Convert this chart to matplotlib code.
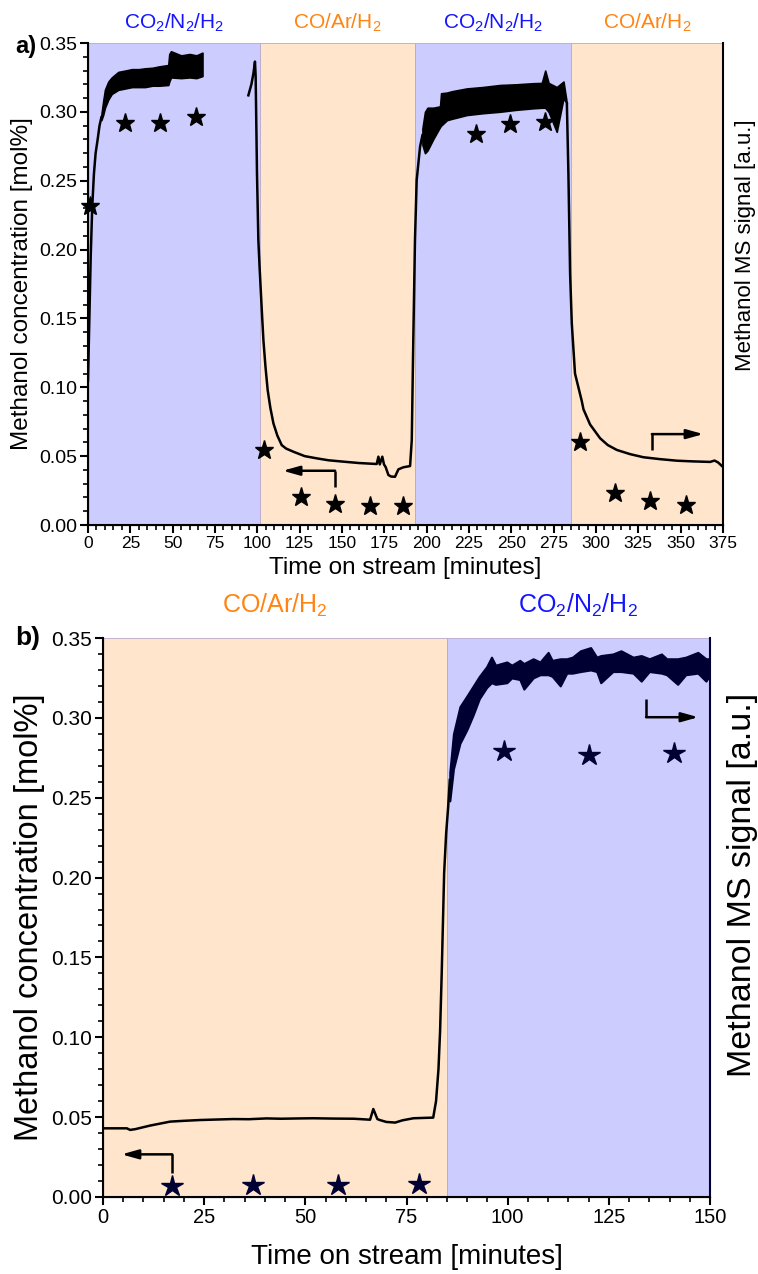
import matplotlib
matplotlib.use("Agg")
import matplotlib.pyplot as plt
from matplotlib.ticker import MultipleLocator

plt.rcParams['font.family'] = ['Liberation Sans', 'DejaVu Sans']
plt.rcParams['mathtext.fontset'] = 'custom'
plt.rcParams['mathtext.rm'] = 'Liberation Sans'
plt.rcParams['mathtext.it'] = 'Liberation Sans'

BLUE_BG = "#ccccff"
ORANGE_BG = "#ffe5cc"
BLUE_TXT = "#1414ff"
ORANGE_TXT = "#ff8412"
NAVY = "#000033"

CO2_LABEL = "CO$_2$/N$_2$/H$_2$"
CO_LABEL = "CO/Ar/H$_2$"

# ---- panel a) data ----
a_regions = [(0, 101.6, "co2"), (101.6, 193, "co"), (193, 285, "co2"), (285, 375, "co")]

a_rise_t = [0, 0.8, 1.6, 2.5, 3.5, 4.5, 5.7, 6.8, 7.9]
a_rise_y = [0.105, 0.150, 0.195, 0.231, 0.255, 0.270, 0.280, 0.290, 0.296]

a_band_t = [7.9, 9, 10, 12, 14, 17.9, 22, 26, 30, 33.7, 38, 42, 47.4, 48, 49, 55, 60, 64, 67.6]
a_band_hi = [0.298, 0.308, 0.316, 0.322, 0.325, 0.329, 0.330, 0.331, 0.331, 0.3316, 0.332,
             0.333, 0.334, 0.342, 0.344, 0.341, 0.342, 0.341, 0.343]
a_band_lo = [0.294, 0.298, 0.303, 0.309, 0.313, 0.316, 0.317, 0.318, 0.318, 0.318, 0.319,
             0.319, 0.3195, 0.322, 0.325, 0.3245, 0.325, 0.3245, 0.326]

b_t = [94.7, 96.5, 97.7, 98.6, 99.0, 99.8, 100.6, 101.3, 102, 102.8, 103.6, 104.8, 106.1,
       107.7, 109.5, 111.8, 114.4, 117, 121.3, 128, 135.1, 142, 150.8, 160, 170.5, 171.5,
       172.3, 173.8, 174.8, 175.8, 177.4, 179, 181.3, 183.3, 186.2, 190.2, 191.2, 192.1,
       193.1, 194.1, 196.1, 197.5]
b_y = [0.312, 0.320, 0.328, 0.3365, 0.326, 0.255, 0.207, 0.188, 0.171, 0.152, 0.134, 0.115,
       0.098, 0.085, 0.0738, 0.065, 0.058, 0.0555, 0.0532, 0.050, 0.0484, 0.047, 0.046, 0.045,
       0.0443, 0.0496, 0.044, 0.0496, 0.044, 0.042, 0.0363, 0.0352, 0.035, 0.0404, 0.0419,
       0.0428, 0.0617, 0.134, 0.207, 0.2505, 0.2747, 0.283]

b_band_t = [197.5, 199, 200.5, 204, 207.9, 208.5, 212, 215, 223.7, 233, 243.4, 253, 263,
            268, 270, 272, 276.8, 280.8, 282.8]
b_band_hi = [0.288, 0.300, 0.303, 0.303, 0.304, 0.3135, 0.314, 0.315, 0.317, 0.318, 0.3195,
             0.320, 0.3208, 0.321, 0.330, 0.321, 0.318, 0.322, 0.306]
b_band_lo = [0.276, 0.270, 0.272, 0.2805, 0.289, 0.290, 0.294, 0.295, 0.2977, 0.299, 0.3001,
             0.3015, 0.3026, 0.303, 0.303, 0.300, 0.2855, 0.310, 0.306]

c_t = [282.8, 283.7, 284.7, 285.7, 287.6, 291.6, 292.6, 296.5, 302.4, 307, 312.3, 320, 328,
       338, 347.7, 357, 367.4, 370, 372, 375.2]
c_y = [0.306, 0.2553, 0.1828, 0.1465, 0.110, 0.090, 0.084, 0.073, 0.063, 0.058, 0.0545,
       0.0515, 0.0492, 0.0478, 0.0467, 0.0462, 0.0458, 0.0468, 0.0455, 0.0419]

a_star_t = [1.2, 21.9, 42.5, 63.8, 104.1, 125.8, 145.9, 166.6, 186.2, 229, 249, 269.7,
            290.6, 311, 332, 353]
a_star_y = [0.232, 0.292, 0.292, 0.2965, 0.0545, 0.0206, 0.0152, 0.014, 0.0138, 0.2837,
            0.291, 0.2927, 0.0603, 0.0235, 0.0177, 0.0145]

# ---- panel b) data ----
b_regions = [(0, 85, "co"), (85, 150, "co2")]

d_t = [0, 5.9, 6.7, 8, 11.6, 16.6, 20, 24, 28, 32.2, 36, 40.4, 44, 48.7, 52, 56.9, 62, 66,
       66.8, 67.8, 68.4, 70, 72.2, 74, 76.7, 79, 81.6, 82.3, 82.9, 83.3, 83.7, 84.3, 84.8,
       85.3, 85.7]
d_y = [0.043, 0.043, 0.042, 0.0425, 0.0447, 0.0472, 0.0477, 0.0482, 0.0485, 0.0488, 0.0487,
       0.0492, 0.049, 0.0492, 0.0493, 0.0491, 0.049, 0.0484, 0.0551, 0.0488, 0.0482, 0.047,
       0.0466, 0.048, 0.0493, 0.0495, 0.0497, 0.060, 0.080, 0.104, 0.14, 0.2027, 0.2277,
       0.2444, 0.2611]

e_t = [85.7, 86.6, 88.2, 90, 91.5, 93, 94.8, 96, 97, 99.8,
       101, 103, 104, 106.3, 108, 110, 111, 113, 114.6, 116,
       118, 120.5, 122, 123, 126, 128, 131, 133, 135, 138,
       139.3, 142, 144, 147, 149, 150]
e_hi = [0.266, 0.290, 0.307, 0.314, 0.320, 0.326, 0.332, 0.338, 0.333, 0.335,
        0.333, 0.336, 0.334, 0.337, 0.335, 0.341, 0.336, 0.337, 0.337, 0.338,
        0.342, 0.344, 0.338, 0.339, 0.340, 0.342, 0.338, 0.339, 0.337, 0.340,
        0.337, 0.337, 0.338, 0.341, 0.337, 0.337]
e_lo = [0.248, 0.268, 0.284, 0.293, 0.302, 0.312, 0.319, 0.322, 0.321, 0.322,
        0.325, 0.324, 0.318, 0.325, 0.327, 0.327, 0.326, 0.320, 0.328, 0.328,
        0.329, 0.330, 0.329, 0.322, 0.329, 0.329, 0.328, 0.323, 0.329, 0.328,
        0.327, 0.321, 0.327, 0.328, 0.323, 0.327]

b_star_t = [17.1, 37.1, 58.1, 78.2, 99.1, 120.1, 141.1]
b_star_y = [0.0071, 0.0075, 0.0077, 0.0081, 0.2793, 0.2768, 0.278]


def setup(ax, xmax, xtick_fs, ytick_fs, xlabel_fs, ylabel_fs, rlabel_fs, xpad, rpos, right_color):
    ax.set_xlim(0, xmax)
    ax.set_ylim(0, 0.35)
    ax.xaxis.set_major_locator(MultipleLocator(25))
    ax.xaxis.set_minor_locator(MultipleLocator(5))
    ax.yaxis.set_major_locator(MultipleLocator(0.05))
    ax.yaxis.set_minor_locator(MultipleLocator(0.01))
    ax.yaxis.set_major_formatter(plt.FuncFormatter(lambda v, p: f"{v:.2f}"))
    ax.tick_params(which="major", direction="out", length=6, width=1.5, pad=2)
    ax.tick_params(which="minor", direction="out", length=3.5, width=1.2)
    ax.tick_params(axis="x", labelsize=xtick_fs)
    ax.tick_params(axis="y", labelsize=ytick_fs)
    ax.spines["top"].set_visible(False)
    for s in ("left", "bottom"):
        ax.spines[s].set_linewidth(1.5)
    ax.spines["right"].set_linewidth(1.5)
    ax.spines["right"].set_color(right_color)
    ax.set_xlabel("Time on stream [minutes]", fontsize=xlabel_fs, labelpad=xpad)
    ax.set_ylabel("Methanol concentration [mol%]", fontsize=ylabel_fs, labelpad=4)
    ax2 = ax.twinx()
    ax2.set_yticks([])
    ax2.spines["top"].set_visible(False)
    ax2.spines["right"].set_visible(False)
    ax2.set_ylabel("Methanol MS signal [a.u.]", fontsize=rlabel_fs, rotation=90, va="center")
    ax2.yaxis.set_label_coords(rpos[0], rpos[1])


def regions(ax, regs, fs, off):
    for x0, x1, kind in regs:
        bg = BLUE_BG if kind == "co2" else ORANGE_BG
        ax.axvspan(x0, x1, facecolor=bg, edgecolor="#b8a8cc", linewidth=0.6, zorder=0)
        txt = CO2_LABEL if kind == "co2" else CO_LABEL
        col = BLUE_TXT if kind == "co2" else ORANGE_TXT
        ax.text((x0 + x1) / 2, 1 + off, txt, color=col, fontsize=fs, ha="center", va="bottom",
                transform=ax.get_xaxis_transform())


def bent_arrow(ax, x0, y0, y1, x1, color):
    ax.plot([x0, x0], [y0, y1], color=color, lw=1.8, solid_capstyle="butt")
    ax.annotate("", xy=(x1, y1), xytext=(x0, y1),
                arrowprops=dict(arrowstyle="-|>,head_length=1.0,head_width=0.28", color=color,
                                lw=1.8, shrinkA=0, shrinkB=0))


fig = plt.figure(figsize=(7.58, 12.74), dpi=100)

# ---------------- a) ----------------
ax = fig.add_axes([88 / 758, 1 - 525 / 1274, 635 / 758, 482 / 1274])
regions(ax, a_regions, 15, 0.018)
ax.plot(a_rise_t, a_rise_y, color="black", lw=1.8)
ax.fill_between(a_band_t, a_band_lo, a_band_hi, color="black", lw=1.2)
ax.plot(b_t, b_y, color="black", lw=1.8)
ax.fill_between(b_band_t, b_band_lo, b_band_hi, color="black", lw=1.2)
ax.plot(c_t, c_y, color="black", lw=1.8)
ax.plot(a_star_t, a_star_y, ls="none", marker="*", ms=14, color="black", clip_on=False)
bent_arrow(ax, 145.9, 0.0278, 0.0394, 115.0, "black")
bent_arrow(ax, 333, 0.0545, 0.066, 363.4, "black")
setup(ax, 375, 12.5, 14, 17.5, 17.5, 16, 4, (1.035, 0.58), "black")
fig.text(15 / 758, 1 - 47 / 1274, "a)", fontsize=17, fontweight="bold", ha="left", va="center")

# ---------------- b) ----------------
bx = fig.add_axes([103 / 758, 1 - 1197 / 1274, 607 / 758, 559 / 1274])
regions(bx, b_regions, 18, 0.034)
bx.plot(d_t, d_y, color="black", lw=1.8)
bx.fill_between(e_t, e_lo, e_hi, color=NAVY, lw=1.5)
bx.plot(b_star_t, b_star_y, ls="none", marker="*", ms=16, color=NAVY, clip_on=False)
bent_arrow(bx, 17.1, 0.0152, 0.0267, 4.6, "black")
bent_arrow(bx, 134.2, 0.3118, 0.3004, 147.1, "black")
setup(bx, 150, 14.5, 15, 20, 23.5, 24.5, 12, (1.053, 0.558), NAVY)
fig.text(15 / 758, 1 - 638 / 1274, "b)", fontsize=19, fontweight="bold", ha="left", va="center")

fig.savefig("out.png", dpi=100)
